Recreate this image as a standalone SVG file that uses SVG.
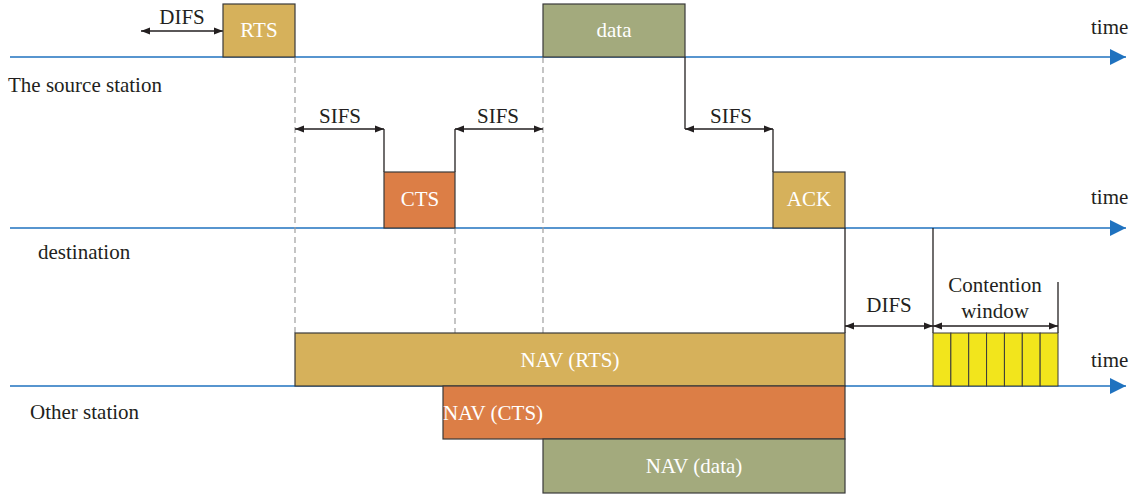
<svg xmlns="http://www.w3.org/2000/svg" width="1136" height="496" viewBox="0 0 1136 496">
  <style>
    text { font-family: "Liberation Serif", "Times New Roman", serif; font-size: 21px; }
    .t { fill: #231f20; }
    .w { fill: #ffffff; text-anchor: middle; }
    .axis { stroke: #1f72bf; stroke-width: 1.6; fill: none; }
    .dash { stroke: #9e9e9e; stroke-width: 1.2; stroke-dasharray: 6 4; fill: none; }
    .ln { stroke: #231f20; stroke-width: 1.3; fill: none; }
    .dim { stroke: #231f20; stroke-width: 1.3; fill: none; marker-start: url(#ah); marker-end: url(#ah); }
    .box { stroke: #3a3a3a; stroke-width: 1.2; }
    .gold { fill: #d6b15b; }
    .olive { fill: #a3aa7d; }
    .orange { fill: #dc7e46; }
    .yellow { fill: #f2e51c; stroke: #3a3a3a; stroke-width: 1; }
  </style>
  <defs>
    <marker id="ah" viewBox="0 0 10 10" refX="10" refY="5" markerWidth="9" markerHeight="9" markerUnits="userSpaceOnUse" orient="auto-start-reverse">
      <path d="M0,1 L10,5 L0,9 Z" fill="#231f20"/>
    </marker>
    <marker id="blue" viewBox="0 0 10 10" refX="10" refY="5" markerWidth="16" markerHeight="16" markerUnits="userSpaceOnUse" orient="auto">
      <path d="M0,0 L10,5 L0,10 Z" fill="#1f72bf"/>
    </marker>
  </defs>

  <!-- time axes -->
  <g id="axes">
    <line class="axis" x1="10" y1="57" x2="1126" y2="57" marker-end="url(#blue)"/>
    <line class="axis" x1="10" y1="228" x2="1126" y2="228" marker-end="url(#blue)"/>
    <line class="axis" x1="10" y1="386" x2="1126" y2="386" marker-end="url(#blue)"/>
    <text class="t" x="1091" y="34">time</text>
    <text class="t" x="1091" y="204">time</text>
    <text class="t" x="1091" y="367">time</text>
  </g>

  <!-- station labels -->
  <g id="labels">
    <text class="t" x="8" y="92">The source station</text>
    <text class="t" x="38" y="259">destination</text>
    <text class="t" x="30" y="419">Other station</text>
  </g>

  <!-- connectors: dashed guides, timing lines and interval arrows -->
  <g id="connectors">
    <line class="dash" x1="295" y1="57" x2="295" y2="333"/>
    <line class="dash" x1="455" y1="228" x2="455" y2="333"/>
    <line class="dash" x1="543" y1="57" x2="543" y2="333"/>

    <line class="ln" x1="384" y1="129" x2="384" y2="172"/>
    <line class="ln" x1="455" y1="129" x2="455" y2="172"/>
    <line class="ln" x1="685" y1="57" x2="685" y2="129"/>
    <line class="ln" x1="773" y1="129" x2="773" y2="172"/>
    <line class="ln" x1="845" y1="228" x2="845" y2="333"/>
    <line class="ln" x1="933" y1="228" x2="933" y2="333"/>
    <line class="ln" x1="1058" y1="282" x2="1058" y2="333"/>

    <line class="dim" x1="141" y1="31" x2="223" y2="31"/>
    <line class="dim" x1="295" y1="129" x2="384" y2="129"/>
    <line class="dim" x1="455" y1="129" x2="543" y2="129"/>
    <line class="dim" x1="685" y1="129" x2="773" y2="129"/>
    <line class="dim" x1="845" y1="326" x2="933" y2="326"/>
    <line class="dim" x1="933" y1="326" x2="1058" y2="326"/>

    <text class="t" x="182" y="24" text-anchor="middle">DIFS</text>
    <text class="t" x="340" y="123" text-anchor="middle">SIFS</text>
    <text class="t" x="498" y="123" text-anchor="middle">SIFS</text>
    <text class="t" x="731" y="123" text-anchor="middle">SIFS</text>
    <text class="t" x="889" y="312" text-anchor="middle">DIFS</text>
    <text class="t" x="995" y="292" text-anchor="middle">Contention</text>
    <text class="t" x="995" y="318" text-anchor="middle">window</text>
  </g>

  <!-- frames -->
  <g id="rts">
    <rect class="box gold" x="223" y="4" width="72" height="53"/>
    <text class="w" x="259" y="37">RTS</text>
  </g>
  <g id="data">
    <rect class="box olive" x="543" y="4" width="142" height="53"/>
    <text class="w" x="614" y="37">data</text>
  </g>
  <g id="cts">
    <rect class="box orange" x="384" y="172" width="71" height="56"/>
    <text class="w" x="420" y="206">CTS</text>
  </g>
  <g id="ack">
    <rect class="box gold" x="773" y="172" width="72" height="56"/>
    <text class="w" x="809" y="206">ACK</text>
  </g>

  <!-- NAV settings -->
  <g id="nav-rts">
    <rect class="box gold" x="295" y="333" width="550" height="53"/>
    <text class="w" x="570" y="367">NAV (RTS)</text>
  </g>
  <g id="nav-cts">
    <rect class="box orange" x="443" y="386" width="402" height="53"/>
    <text class="w" x="493" y="420">NAV (CTS)</text>
  </g>
  <g id="nav-data">
    <rect class="box olive" x="543" y="439" width="302" height="54"/>
    <text class="w" x="694" y="473">NAV (data)</text>
  </g>

  <!-- contention window slots -->
  <g id="contention-window">
    <rect class="yellow" x="933" y="333" width="17.86" height="53"/>
    <rect class="yellow" x="950.86" y="333" width="17.86" height="53"/>
    <rect class="yellow" x="968.71" y="333" width="17.86" height="53"/>
    <rect class="yellow" x="986.57" y="333" width="17.86" height="53"/>
    <rect class="yellow" x="1004.43" y="333" width="17.86" height="53"/>
    <rect class="yellow" x="1022.29" y="333" width="17.86" height="53"/>
    <rect class="yellow" x="1040.14" y="333" width="17.86" height="53"/>
  </g>
</svg>
